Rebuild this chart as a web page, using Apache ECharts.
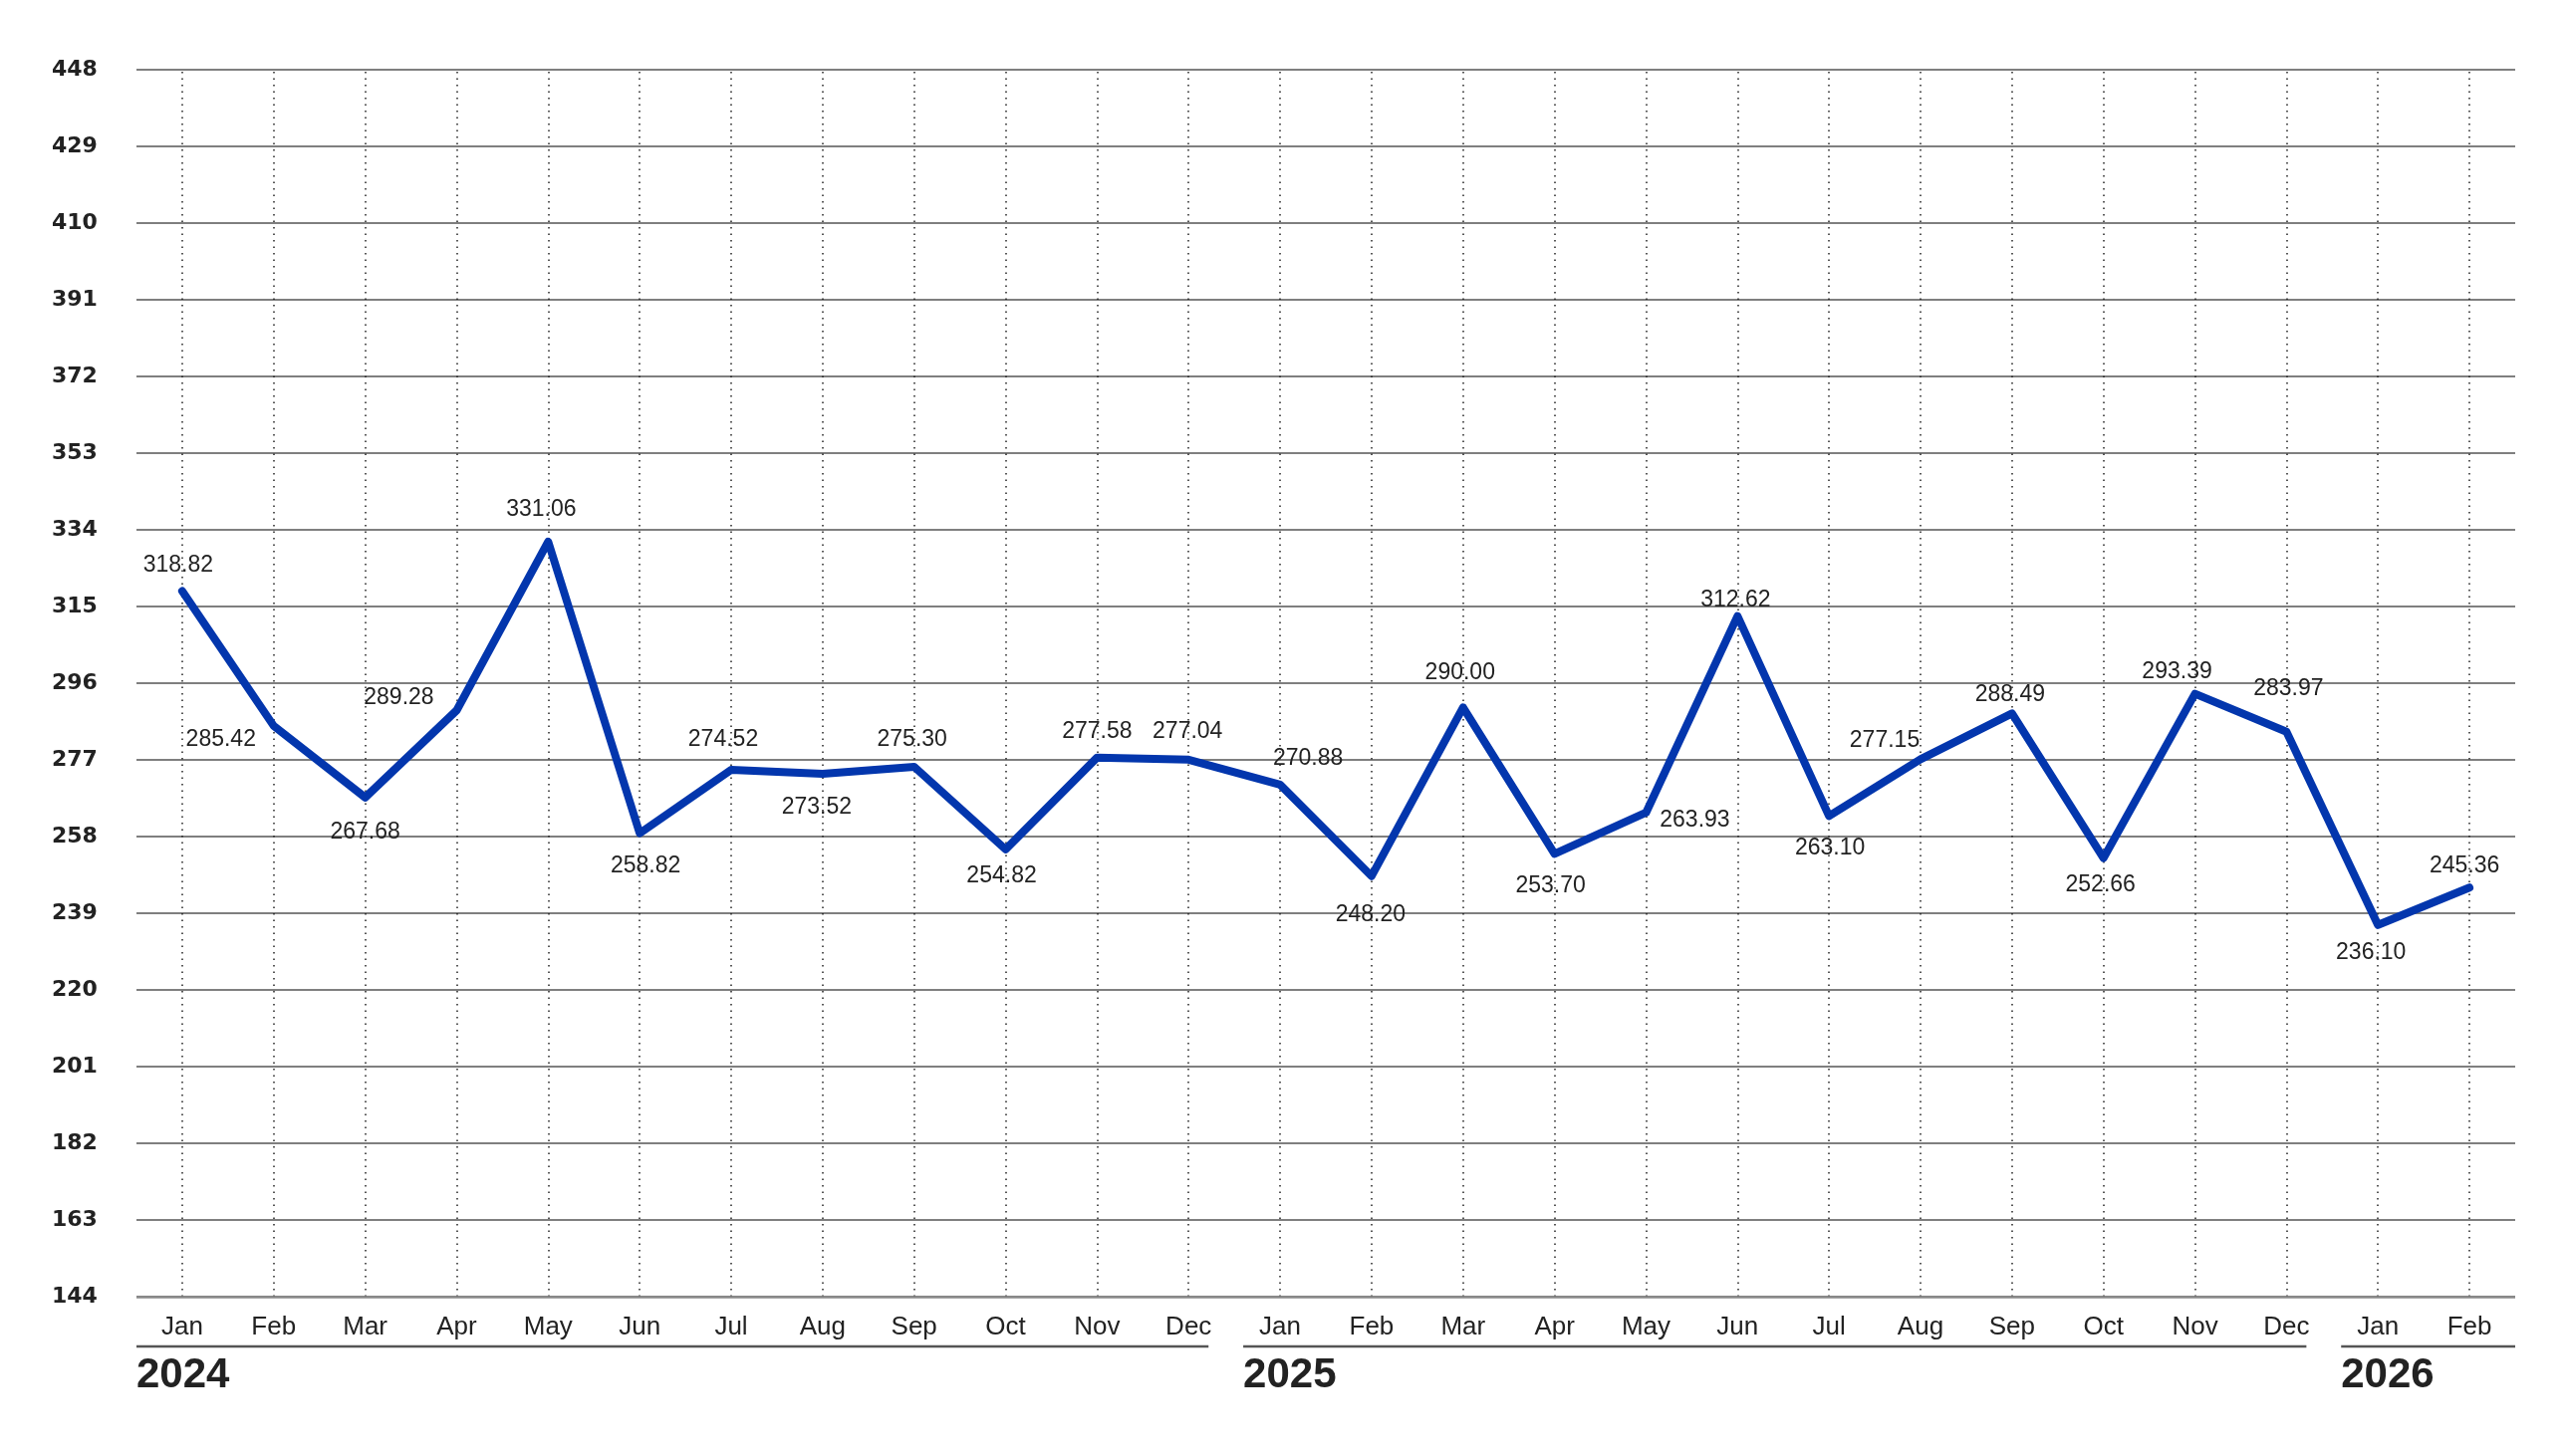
<!DOCTYPE html>
<html>
<head>
<meta charset="utf-8">
<script src="https://cdn.jsdelivr.net/npm/echarts@6/dist/echarts.min.js"></script>
<style>
  html, body { margin: 0; padding: 0; background: #fff; }
  #chart { width: 2577px; height: 1462px; }
</style>
</head>
<body>
<div id="chart"></div>
<script>
// monthly values
const months = ["Jan", "Feb", "Mar", "Apr", "May", "Jun", "Jul", "Aug", "Sep", "Oct", "Nov", "Dec",
  "Jan", "Feb", "Mar", "Apr", "May", "Jun", "Jul", "Aug", "Sep", "Oct", "Nov", "Dec",
  "Jan", "Feb"];
const monthYears = ["2024", "2024", "2024", "2024", "2024", "2024", "2024", "2024", "2024", "2024", "2024", "2024",
  "2025", "2025", "2025", "2025", "2025", "2025", "2025", "2025", "2025", "2025", "2025", "2025",
  "2026", "2026"];
const values = [318.82, 285.42, 267.68, 289.28, 331.06, 258.82, 274.52, 273.52, 275.30, 254.82, 277.58, 277.04,
  270.88, 248.20, 290.00, 253.70, 263.93, 312.62, 263.10, 277.15, 288.49, 252.66, 293.39, 283.97,
  236.10, 245.36];
const yMin = 144;
const yMax = 448;
const yStep = 19;

// where each value label sits relative to its point (px)
const labelOffsets = [
  [-4, -26], [-53, 14], [0, 35], [-58, -13], [-7, -32], [6, 33], [-8, -30], [-6, 34], [-2, -27], [-4, 27], [0, -26], [-1, -28],
  [28, -26], [-1, 39], [-3, -35], [-4, 32], [49, 8], [-2, -16], [1, 32], [-36, -19], [-2, -19], [-3, 27], [-18, -22], [2, -43],
  [-7, 28], [-5, -22]
];

const GRID_LEFT = 137;
const GRID_RIGHT = 52;
const GRID_TOP = 70;
const GRID_BOTTOM = 160;

const categories = months.map((m, i) => m + " " + monthYears[i]);

const chart = echarts.init(document.getElementById("chart"));

const option = {
  animation: false,
  backgroundColor: "#fff",
  grid: {
    left: GRID_LEFT,
    right: GRID_RIGHT,
    top: GRID_TOP,
    bottom: GRID_BOTTOM,
    containLabel: false
  },
  xAxis: {
    type: "category",
    data: categories,
    boundaryGap: true,
    axisTick: { show: false },
    axisLine: { show: false },
    splitLine: { show: false },
    axisLabel: {
      interval: 0,
      margin: 18,
      color: "#222",
      fontSize: 26,
      fontFamily: "Liberation Sans",
      formatter: v => v.split(" ")[0]
    }
  },
  yAxis: {
    type: "value",
    min: yMin,
    max: yMax,
    interval: yStep,
    axisLine: { show: false },
    axisTick: { show: false },
    axisLabel: {
      align: "left",
      margin: 85,
      color: "#222",
      fontSize: 22,
      fontWeight: "bold",
      fontFamily: "DejaVu Sans"
    },
    splitLine: {
      lineStyle: { color: "#555", width: 1.5 }
    }
  },
  series: [
    {
      type: "line",
      data: values,
      symbol: "none",
      lineStyle: { color: "#0336ad", width: 8, cap: "round", join: "round" },
      itemStyle: { color: "#0336ad" },
      z: 5,
      markLine: {
        silent: true,
        symbol: "none",
        animation: false,
        label: { show: false },
        lineStyle: { color: "#222", width: 1.5, type: [1.5, 5] },
        data: categories.map(c => ({ xAxis: c }))
      }
    },
    {
      // value labels
      type: "custom",
      data: values.map((v, i) => [i, v]),
      z: 6,
      silent: true,
      renderItem: function (params, api) {
        const i = api.value(0);
        const pt = api.coord([i, api.value(1)]);
        const off = labelOffsets[i];
        return {
          type: "text",
          x: pt[0] + off[0],
          y: pt[1] + off[1],
          style: {
            text: api.value(1).toFixed(2),
            fill: "#222",
            fontSize: 23,
            fontFamily: "Liberation Sans",
            align: "center",
            verticalAlign: "middle"
          }
        };
      }
    },
    {
      // bottom axis line
      type: "line",
      data: [],
      markLine: {
        silent: true,
        symbol: "none",
        label: { show: false },
        lineStyle: { color: "#8a8a8a", width: 2.5, type: "solid" },
        data: [{ yAxis: yMin }]
      }
    }
  ]
};

chart.setOption(option);

// year groups under the month labels
function yearGraphics() {
  const groups = [];
  monthYears.forEach((y, i) => {
    const g = groups[groups.length - 1];
    if (g && g.year === y) g.to = i;
    else groups.push({ year: y, from: i, to: i });
  });
  const gridR = chart.getWidth() - GRID_RIGHT;
  const lineY = chart.getHeight() - GRID_BOTTOM + 50;
  const els = [];
  groups.forEach((g, k) => {
    const x1 = k === 0 ? GRID_LEFT : chart.convertToPixel({ xAxisIndex: 0 }, categories[g.from]) - 37;
    const x2 = k === groups.length - 1 ? gridR : chart.convertToPixel({ xAxisIndex: 0 }, categories[g.to]) + 20;
    els.push({
      type: "line",
      silent: true,
      shape: { x1: x1, y1: lineY, x2: x2, y2: lineY },
      style: { stroke: "#555", lineWidth: 2.5 }
    });
    els.push({
      type: "text",
      silent: true,
      x: x1,
      y: lineY + 29,
      style: {
        text: g.year,
        fill: "#222",
        fontSize: 42,
        fontWeight: "bold",
        fontFamily: "Liberation Sans",
        verticalAlign: "middle"
      }
    });
  });
  return els;
}

chart.setOption({ graphic: yearGraphics() });
</script>
</body>
</html>
